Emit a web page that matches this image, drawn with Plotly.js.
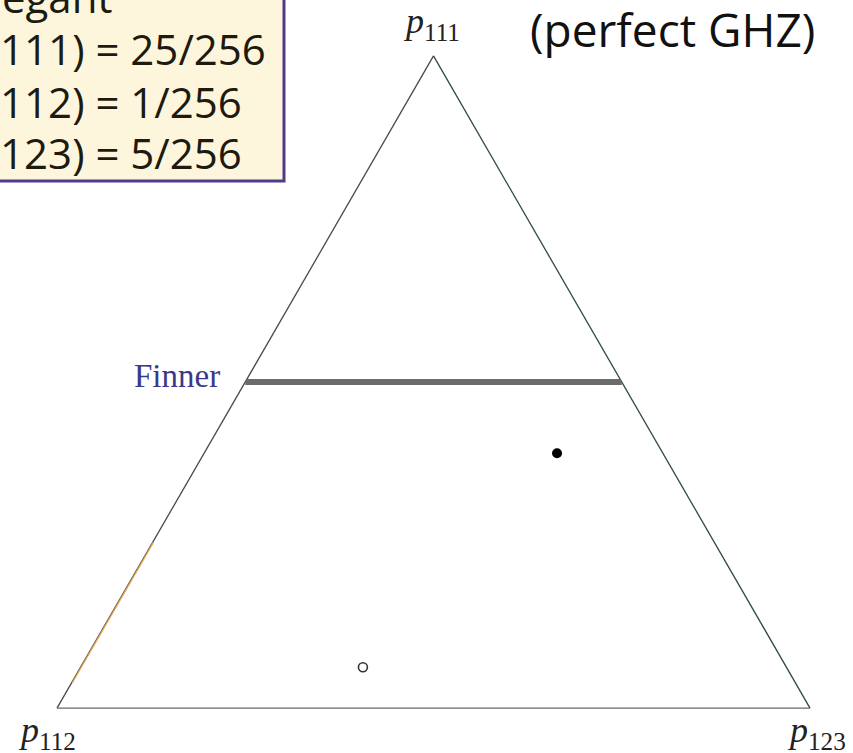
<!DOCTYPE html>
<html>
<head>
<meta charset="utf-8">
<script src="https://cdn.plot.ly/plotly-3.0.1.min.js"></script>
<style>
  html, body { margin: 0; padding: 0; background: #ffffff; }
  #chart { width: 853px; height: 753px; }
</style>
</head>
<body>
<div id="chart"></div>
<script>
// Correlation simplex for three-party outcomes: p111 (top), p112 (left), p123 (right)
const vertexLabels = ['<i>p</i><sub>111</sub>', '<i>p</i><sub>112</sub>', '<i>p</i><sub>123</sub>'];

// Finner bound: p111 = 1/2, edge to edge
const finnerA = [0.5, 0.5];
const finnerB = [0.5, 0.0];
const finnerC = [0.0, 0.5];

// Elegant distribution (filled) : 4*25/256, 36*1/256, 24*5/256
const elegantA = [100 / 256];
const elegantB = [36 / 256];
const elegantC = [120 / 256];

// Uniform point (open)
const uniformA = [1 / 16];
const uniformB = [9 / 16];
const uniformC = [6 / 16];

// Highlighted stretch of the p111–p112 edge
const edgeA = [0.04, 0.255];
const edgeB = [0.96, 0.745];
const edgeC = [0.0, 0.0];

// Box text
const boxLines = ['Elegant', 'p(111) = 25/256', 'p(112) = 1/256', 'p(123) = 5/256'];
const headline = '(perfect GHZ)';

const W = 853, H = 753;
const px = x => x / W;
const py = y => 1 - y / H;

const traces = [
  {
    type: 'scatterternary', mode: 'lines',
    a: finnerA, b: finnerB, c: finnerC,
    line: { color: '#6b6b6b', width: 6 },
    hoverinfo: 'skip', showlegend: false
  },
  {
    type: 'scatterternary', mode: 'lines',
    a: edgeA, b: edgeB, c: edgeC,
    line: { color: '#e6a850', width: 2.6 },
    hoverinfo: 'skip', showlegend: false
  },
  {
    type: 'scatterternary', mode: 'markers',
    a: elegantA, b: elegantB, c: elegantC,
    marker: { color: '#000000', size: 10, line: { width: 0 } },
    showlegend: false
  },
  {
    type: 'scatterternary', mode: 'markers',
    a: uniformA, b: uniformB, c: uniformC,
    marker: { color: 'rgba(0,0,0,0)', size: 9, line: { color: '#333333', width: 1.6 } },
    showlegend: false
  }
];

const hiddenAxis = (lineColor) => ({
  showticklabels: false, ticks: '', showgrid: false, layer: 'below traces',
  linecolor: lineColor, linewidth: 1.3, title: { text: '' }
});

const serif = 'Liberation Serif, DejaVu Serif, serif';
const sans = 'Open Sans, Lato, sans-serif';

const annotations = [
  { xref: 'paper', yref: 'paper', x: px(432), y: py(24), xanchor: 'center', yanchor: 'middle',
    text: vertexLabels[0], showarrow: false,
    font: { family: serif, size: 36, color: '#222222' } },
  { xref: 'paper', yref: 'paper', x: px(47), y: py(732), xanchor: 'center', yanchor: 'middle',
    text: vertexLabels[1], showarrow: false,
    font: { family: serif, size: 36, color: '#222222' } },
  { xref: 'paper', yref: 'paper', x: px(816), y: py(732), xanchor: 'center', yanchor: 'middle',
    text: vertexLabels[2], showarrow: false,
    font: { family: serif, size: 36, color: '#222222' } },
  { xref: 'paper', yref: 'paper', x: px(222), y: py(376), xanchor: 'right', yanchor: 'middle',
    text: 'Finner', showarrow: false,
    font: { family: serif, size: 33, color: '#3b3a8a' } },
  { xref: 'paper', yref: 'paper', x: px(672), y: py(29), xanchor: 'center', yanchor: 'middle',
    text: headline, showarrow: false,
    font: { family: sans, size: 46, color: '#111111' } }
];

const boxY = [-4, 49, 101, 152];
boxLines.forEach((t, i) => {
  annotations.push({
    xref: 'paper', yref: 'paper', x: px(i === 0 ? -34 : -40), y: py(boxY[i]),
    xanchor: 'left', yanchor: 'middle', align: 'left',
    text: t, showarrow: false,
    font: { family: sans, size: 42, color: '#1e1a10' }
  });
});

const layout = {
  width: W, height: H,
  margin: { l: 0, r: 0, t: 0, b: 0 },
  paper_bgcolor: '#ffffff',
  showlegend: false,
  ternary: {
    sum: 1,
    domain: { x: [px(57), px(810)], y: [py(709), py(55)] },
    bgcolor: '#ffffff',
    aaxis: hiddenAxis('#4a4a4a'),
    baxis: hiddenAxis('#6a6a6a'),
    caxis: hiddenAxis('#2f4a44')
  },
  shapes: [
    { type: 'rect', xref: 'paper', yref: 'paper', layer: 'above',
      x0: px(-60), x1: px(284), y0: py(181), y1: py(-60),
      fillcolor: '#fdf6dd', line: { color: '#4e3b8c', width: 3 } }
  ],
  annotations: annotations
};

Plotly.newPlot('chart', traces, layout, { displayModeBar: false, staticPlot: true });
</script>
</body>
</html>
